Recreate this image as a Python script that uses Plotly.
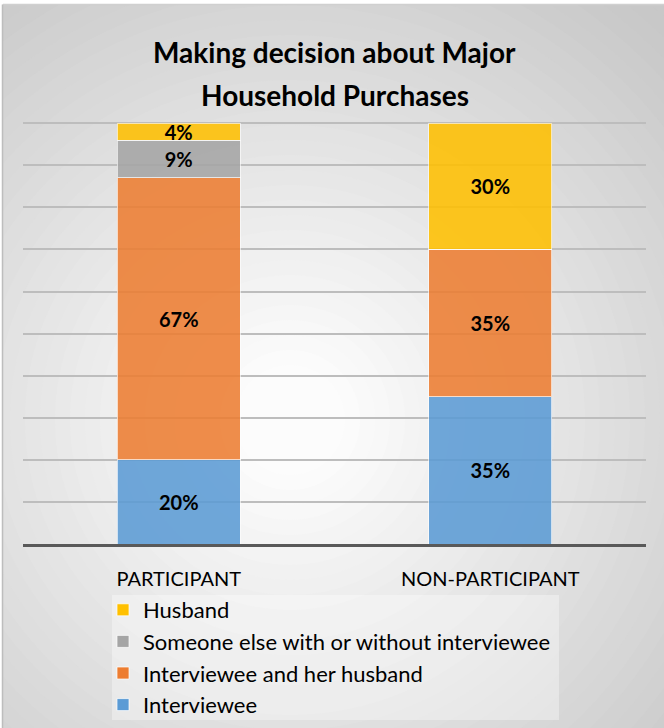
import plotly.graph_objects as go

categories = ["PARTICIPANT", "NON-PARTICIPANT"]
interviewee = [20, 35]
interviewee_and_husband = [67, 35]
someone_else = [9, 0]
husband = [4, 30]

series = [
    ("Interviewee", interviewee, "#5B9BD5", 4),
    ("Interviewee and her husband", interviewee_and_husband, "#ED7D31", 3),
    ("Someone else with or without interviewee", someone_else, "#A5A5A5", 2),
    ("Husband", husband, "#FFC000", 1),
]

W, H = 664, 728
ML, MR, MT, MB = 23, 18, 122, 184
PW = W - ML - MR
PH = H - MT - MB


def px2x(px):
    return (px - ML) / PW


def py2y(py):
    return (H - MB - py) / PH


FONT = "Lato"

fig = go.Figure()
for name, vals, color, rank in series:
    fig.add_trace(go.Bar(
        x=categories, y=vals, name=name,
        marker=dict(color=color, opacity=0.87,
                    line=dict(color="rgba(255,255,255,0.7)", width=1)),
        text=[f"{v}%" if v > 0 else "" for v in vals],
        textposition="inside", insidetextanchor="middle", textangle=0,
        textfont=dict(family=FONT, size=20, color="black", weight="bold"),
        width=0.395, legendrank=rank,
        hoverinfo="skip",
    ))

# background: stepped radial gradient inside frame
shapes = []
shapes.append(dict(type="rect", xref="paper", yref="paper", layer="below",
                   x0=px2x(3), x1=px2x(W), y0=py2y(5), y1=py2y(H),
                   fillcolor="rgb(200,200,200)", line=dict(width=0)))
cx, cy = 290, 420
r = 580
while r >= 40:
    d = max(r, 60)
    v = 252 - 52 * (d - 60) / 480
    v = int(round(min(252, max(200, v))))
    shapes.append(dict(type="circle", xref="paper", yref="paper", layer="below",
                       x0=px2x(cx - r), x1=px2x(cx + r),
                       y0=py2y(cy + r), y1=py2y(cy - r),
                       fillcolor=f"rgb({v},{v},{v})", line=dict(width=0)))
    r -= 15
# white strips outside frame
for (ax0, ax1, ay0, ay1) in [(-700, W + 700, 4.5, -700), (-700, 2.5, -700, H + 700),
                             (-700, W + 700, H, H + 700), (W, W + 700, -700, H + 700)]:
    shapes.append(dict(type="rect", xref="paper", yref="paper", layer="below",
                       x0=px2x(ax0), x1=px2x(ax1), y0=py2y(ay0), y1=py2y(ay1),
                       fillcolor="white", line=dict(width=0)))
# frame border
shapes.append(dict(type="line", xref="paper", yref="paper", layer="below",
                   x0=px2x(3), x1=px2x(W), y0=py2y(4.5), y1=py2y(4.5),
                   line=dict(color="#D0D0D0", width=1.5)))
shapes.append(dict(type="line", xref="paper", yref="paper", layer="below",
                   x0=px2x(2.5), x1=px2x(2.5), y0=py2y(4.5), y1=py2y(H),
                   line=dict(color="#BDBDBD", width=1.5)))
# legend background box
shapes.append(dict(type="rect", xref="paper", yref="paper", layer="below",
                   x0=px2x(112), x1=px2x(559), y0=py2y(595), y1=py2y(720),
                   fillcolor="rgba(255,255,255,0.35)", line=dict(width=0)))

title_lines = ["Making decision about Major", "Household Purchases"]
title_y = [52, 95]
annotations = [
    dict(text=f"<b>{t}</b>", x=0.5, xref="paper", xanchor="center",
         y=py2y(yy), yref="paper", yanchor="middle", showarrow=False,
         font=dict(family=FONT, size=28, color="black"))
    for t, yy in zip(title_lines, title_y)
]

fig.update_layout(
    width=W, height=H,
    margin=dict(l=ML, r=MR, t=MT, b=MB, pad=0, autoexpand=False),
    paper_bgcolor="white",
    plot_bgcolor="rgba(0,0,0,0)",
    barmode="stack",
    shapes=shapes,
    annotations=annotations,
    uniformtext=dict(minsize=20, mode="show"),
    xaxis=dict(
        showgrid=False, showline=True, linecolor="#595959", linewidth=3,
        ticks="", tickfont=dict(family=FONT, size=20, color="black"),
        ticklabelstandoff=15, fixedrange=True,
    ),
    yaxis=dict(
        range=[0, 100.3], dtick=10, showgrid=True, gridcolor="#BDBDBD",
        gridwidth=1.5, showticklabels=False, zeroline=False, showline=False,
        ticks="", fixedrange=True,
    ),
    legend=dict(
        x=px2x(103), y=py2y(589), xanchor="left", yanchor="top",
        xref="paper", yref="paper",
        bgcolor="rgba(0,0,0,0)",
        font=dict(family=FONT, size=22, color="black"),
        traceorder="normal",
        itemwidth=30,
    ),
    showlegend=True,
)

fig.write_html(
    "out.html",
    config={"displayModeBar": False},
    post_script="document.body.style.margin='0';document.body.style.overflow='hidden';",
)
